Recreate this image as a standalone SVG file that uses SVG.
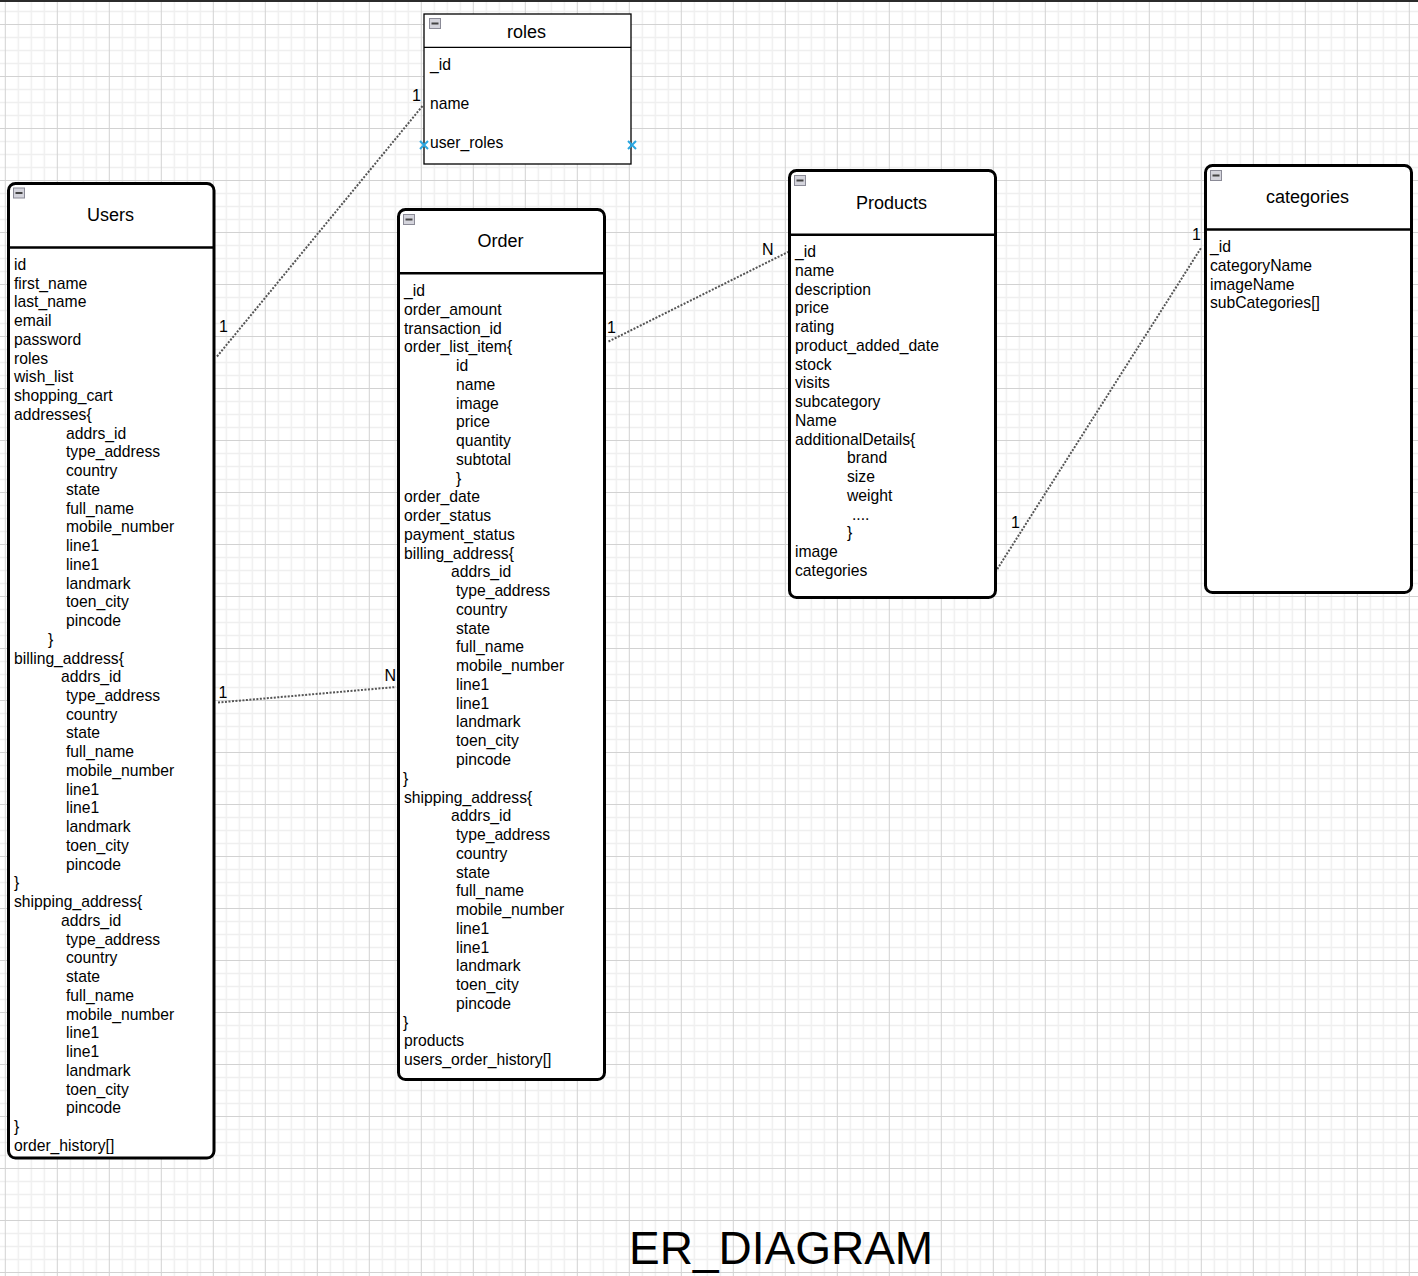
<svg xmlns="http://www.w3.org/2000/svg" width="1418" height="1276" viewBox="0 0 1418 1276">
<defs>
<pattern id="grid" x="4.8" y="24" width="52" height="52" patternUnits="userSpaceOnUse">
<path d="M13.5 0V52M26.5 0V52M39.5 0V52M0 13.5H52M0 26.5H52M0 39.5H52" stroke="#efefef" stroke-width="1.5" fill="none"/>
<path d="M0.5 0V52M0 0.5H52" stroke="#d2d2d2" stroke-width="1" fill="none"/>
</pattern>
<g id="minus">
<rect x="0.5" y="0.5" width="11" height="10" fill="#d4d4dc" stroke="#8a8a96" stroke-width="1"/>
<rect x="2.5" y="4.5" width="7" height="2" fill="#444"/>
</g>
</defs>
<style>
.box{fill:#fff;stroke:#000;stroke-width:3}
.hdr{stroke:#000;stroke-width:2.5}
.t{font-family:"Liberation Sans",Arial,sans-serif;font-size:15.7px;fill:#000}
.title{font-family:"Liberation Sans",Arial,sans-serif;font-size:18px;fill:#000;text-anchor:middle}
.lbl{font-family:"Liberation Sans",Arial,sans-serif;font-size:16px;fill:#000}
.conn{stroke:#555;stroke-width:2;stroke-dasharray:2 1.5;fill:none}
.x{stroke:#2aa6e0;stroke-width:2;fill:none}
</style>
<rect width="1418" height="1276" fill="#fff"/>
<rect width="1418" height="1276" fill="url(#grid)"/>
<rect x="0" y="0" width="1418" height="2" fill="#2b2b2b"/>

<g id="connectors">
<line class="conn" x1="217" y1="356.5" x2="422.5" y2="106"/>
<line class="conn" x1="218" y1="702.5" x2="396" y2="687"/>
<line class="conn" x1="608.5" y1="341.5" x2="788" y2="252"/>
<line class="conn" x1="993.5" y1="575" x2="1201" y2="248"/>
<text class="lbl" x="219" y="331.5">1</text>
<text class="lbl" x="412" y="100.5">1</text>
<text class="lbl" x="218.5" y="698">1</text>
<text class="lbl" x="384.5" y="681">N</text>
<text class="lbl" x="607" y="333">1</text>
<text class="lbl" x="762" y="255">N</text>
<text class="lbl" x="1011" y="528">1</text>
<text class="lbl" x="1192" y="240">1</text>
</g>

<g id="roles">
<rect x="424" y="14" width="207" height="150" fill="#fff" stroke="#000" stroke-width="1.3"/>
<line x1="424" y1="47.3" x2="631" y2="47.3" stroke="#000" stroke-width="1.3"/>
<use href="#minus" x="429" y="18"/>
<text class="title" x="526.5" y="38.3">roles</text>
<text class="t" x="430" y="69.5">_id</text>
<text class="t" x="430" y="108.7">name</text>
<text class="t" x="430" y="147.9">user_roles</text>
<path class="x" d="M420 141L428 149M428 141L420 149"/>
<path class="x" d="M628 141L636 149M636 141L628 149"/>
</g>

<g id="users">
<rect class="box" x="8.5" y="183.5" width="205.5" height="974.5" rx="7"/>
<line class="hdr" x1="8.5" y1="247.5" x2="214" y2="247.5"/>
<use href="#minus" x="13" y="187.5"/>
<text class="title" x="110.5" y="221">Users</text>
<text class="t" y="270">
<tspan x="14">id</tspan>
<tspan x="14" dy="18.74">first_name</tspan>
<tspan x="14" dy="18.74">last_name</tspan>
<tspan x="14" dy="18.74">email</tspan>
<tspan x="14" dy="18.74">password</tspan>
<tspan x="14" dy="18.74">roles</tspan>
<tspan x="14" dy="18.74">wish_list</tspan>
<tspan x="14" dy="18.74">shopping_cart</tspan>
<tspan x="14" dy="18.74">addresses{</tspan>
<tspan x="66" dy="18.74">addrs_id</tspan>
<tspan x="66" dy="18.74">type_address</tspan>
<tspan x="66" dy="18.74">country</tspan>
<tspan x="66" dy="18.74">state</tspan>
<tspan x="66" dy="18.74">full_name</tspan>
<tspan x="66" dy="18.74">mobile_number</tspan>
<tspan x="66" dy="18.74">line1</tspan>
<tspan x="66" dy="18.74">line1</tspan>
<tspan x="66" dy="18.74">landmark</tspan>
<tspan x="66" dy="18.74">toen_city</tspan>
<tspan x="66" dy="18.74">pincode</tspan>
<tspan x="48" dy="18.74">}</tspan>
<tspan x="14" dy="18.74">billing_address{</tspan>
<tspan x="61" dy="18.74">addrs_id</tspan>
<tspan x="66" dy="18.74">type_address</tspan>
<tspan x="66" dy="18.74">country</tspan>
<tspan x="66" dy="18.74">state</tspan>
<tspan x="66" dy="18.74">full_name</tspan>
<tspan x="66" dy="18.74">mobile_number</tspan>
<tspan x="66" dy="18.74">line1</tspan>
<tspan x="66" dy="18.74">line1</tspan>
<tspan x="66" dy="18.74">landmark</tspan>
<tspan x="66" dy="18.74">toen_city</tspan>
<tspan x="66" dy="18.74">pincode</tspan>
<tspan x="14" dy="18.74">}</tspan>
<tspan x="14" dy="18.74">shipping_address{</tspan>
<tspan x="61" dy="18.74">addrs_id</tspan>
<tspan x="66" dy="18.74">type_address</tspan>
<tspan x="66" dy="18.74">country</tspan>
<tspan x="66" dy="18.74">state</tspan>
<tspan x="66" dy="18.74">full_name</tspan>
<tspan x="66" dy="18.74">mobile_number</tspan>
<tspan x="66" dy="18.74">line1</tspan>
<tspan x="66" dy="18.74">line1</tspan>
<tspan x="66" dy="18.74">landmark</tspan>
<tspan x="66" dy="18.74">toen_city</tspan>
<tspan x="66" dy="18.74">pincode</tspan>
<tspan x="14" dy="18.74">}</tspan>
<tspan x="14" dy="18.74">order_history[]</tspan>
</text>
</g>

<g id="order">
<rect class="box" x="398.5" y="209.5" width="206" height="870" rx="7"/>
<line class="hdr" x1="398.5" y1="273.3" x2="604.5" y2="273.3"/>
<use href="#minus" x="403" y="214"/>
<text class="title" x="500.5" y="247">Order</text>
<text class="t" y="296">
<tspan x="404">_id</tspan>
<tspan x="404" dy="18.76">order_amount</tspan>
<tspan x="404" dy="18.76">transaction_id</tspan>
<tspan x="404" dy="18.76">order_list_item{</tspan>
<tspan x="456" dy="18.76">id</tspan>
<tspan x="456" dy="18.76">name</tspan>
<tspan x="456" dy="18.76">image</tspan>
<tspan x="456" dy="18.76">price</tspan>
<tspan x="456" dy="18.76">quantity</tspan>
<tspan x="456" dy="18.76">subtotal</tspan>
<tspan x="456" dy="18.76">}</tspan>
<tspan x="404" dy="18.76">order_date</tspan>
<tspan x="404" dy="18.76">order_status</tspan>
<tspan x="404" dy="18.76">payment_status</tspan>
<tspan x="404" dy="18.76">billing_address{</tspan>
<tspan x="451" dy="18.76">addrs_id</tspan>
<tspan x="456" dy="18.76">type_address</tspan>
<tspan x="456" dy="18.76">country</tspan>
<tspan x="456" dy="18.76">state</tspan>
<tspan x="456" dy="18.76">full_name</tspan>
<tspan x="456" dy="18.76">mobile_number</tspan>
<tspan x="456" dy="18.76">line1</tspan>
<tspan x="456" dy="18.76">line1</tspan>
<tspan x="456" dy="18.76">landmark</tspan>
<tspan x="456" dy="18.76">toen_city</tspan>
<tspan x="456" dy="18.76">pincode</tspan>
<tspan x="403" dy="18.76">}</tspan>
<tspan x="404" dy="18.76">shipping_address{</tspan>
<tspan x="451" dy="18.76">addrs_id</tspan>
<tspan x="456" dy="18.76">type_address</tspan>
<tspan x="456" dy="18.76">country</tspan>
<tspan x="456" dy="18.76">state</tspan>
<tspan x="456" dy="18.76">full_name</tspan>
<tspan x="456" dy="18.76">mobile_number</tspan>
<tspan x="456" dy="18.76">line1</tspan>
<tspan x="456" dy="18.76">line1</tspan>
<tspan x="456" dy="18.76">landmark</tspan>
<tspan x="456" dy="18.76">toen_city</tspan>
<tspan x="456" dy="18.76">pincode</tspan>
<tspan x="403" dy="18.76">}</tspan>
<tspan x="404" dy="18.76">products</tspan>
<tspan x="404" dy="18.76">users_order_history[]</tspan>
</text>
</g>

<g id="products">
<rect class="box" x="789.5" y="170.5" width="206" height="427" rx="7"/>
<line class="hdr" x1="789.5" y1="234.7" x2="995.5" y2="234.7"/>
<use href="#minus" x="794" y="175"/>
<text class="title" x="891.5" y="208.5">Products</text>
<text class="t" y="257">
<tspan x="795">_id</tspan>
<tspan x="795" dy="18.76">name</tspan>
<tspan x="795" dy="18.76">description</tspan>
<tspan x="795" dy="18.76">price</tspan>
<tspan x="795" dy="18.76">rating</tspan>
<tspan x="795" dy="18.76">product_added_date</tspan>
<tspan x="795" dy="18.76">stock</tspan>
<tspan x="795" dy="18.76">visits</tspan>
<tspan x="795" dy="18.76">subcategory</tspan>
<tspan x="795" dy="18.76">Name</tspan>
<tspan x="795" dy="18.76">additionalDetails{</tspan>
<tspan x="847" dy="18.76">brand</tspan>
<tspan x="847" dy="18.76">size</tspan>
<tspan x="847" dy="18.76">weight</tspan>
<tspan x="852" dy="18.76">....</tspan>
<tspan x="847" dy="18.76">}</tspan>
<tspan x="795" dy="18.76">image</tspan>
<tspan x="795" dy="18.76">categories</tspan>
</text>
</g>

<g id="categories">
<rect class="box" x="1205.5" y="165.5" width="206" height="427" rx="7"/>
<line class="hdr" x1="1205.5" y1="229.5" x2="1411.5" y2="229.5"/>
<use href="#minus" x="1210" y="170"/>
<text class="title" x="1307.5" y="203">categories</text>
<text class="t" y="252">
<tspan x="1210">_id</tspan>
<tspan x="1210" dy="18.76">categoryName</tspan>
<tspan x="1210" dy="18.76">imageName</tspan>
<tspan x="1210" dy="18.76">subCategories[]</tspan>
</text>
</g>

<text id="title" x="629" y="1264" font-family="'Liberation Sans',Arial,sans-serif" font-size="46" fill="#000">ER_DIAGRAM</text>
</svg>
